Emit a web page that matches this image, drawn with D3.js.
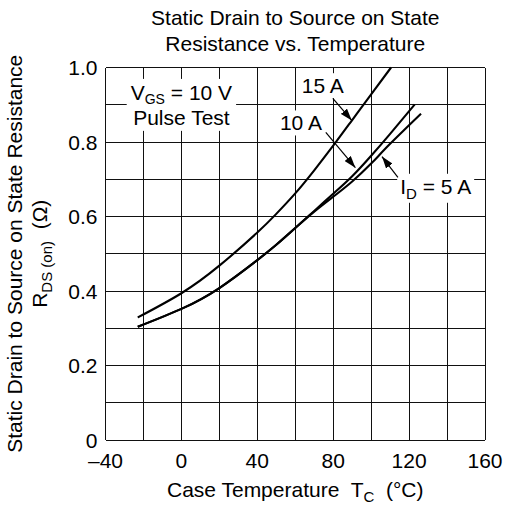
<!DOCTYPE html>
<html>
<head>
<meta charset="utf-8">
<script src="https://cdn.jsdelivr.net/npm/d3@7"></script>
<style>
  body { margin: 0; background: #fff; }
  text { font-family: "Liberation Sans", Arial, sans-serif; fill: #000; white-space: pre; }
</style>
</head>
<body>
<script>
// curves, Tc in °C, Rds(on) in ohm
const temps15 = [-23, 0, 20, 40, 50, 60, 70, 80, 90, 100, 110.5];
const res15   = [0.329, 0.394, 0.468, 0.557, 0.607, 0.662, 0.724, 0.79, 0.859, 0.928, 1.0];
const temps10 = [-23, 0, 20, 40, 50, 60, 70, 80, 90, 100, 110, 123];
const res10   = [0.304, 0.352, 0.408, 0.483, 0.524, 0.569, 0.615, 0.661, 0.708, 0.763, 0.822, 0.901];
const temps5  = [-23, 0, 20, 40, 50, 60, 70, 80, 90, 100, 110, 126.3];
const res5    = [0.304, 0.352, 0.408, 0.483, 0.524, 0.569, 0.613, 0.653, 0.694, 0.742, 0.795, 0.876];

const xGrid = [-40, -20, 0, 20, 40, 60, 80, 100, 120, 140, 160];
const yGrid = [0, 0.1, 0.2, 0.3, 0.4, 0.5, 0.6, 0.7, 0.8, 0.9, 1.0];
const xTicks = [-40, 0, 40, 80, 120, 160];
const yTicks = [0, 0.2, 0.4, 0.6, 0.8, 1.0];

// annotation arrows: [tail T, tail R, tip T, tip R]
const arrows = [
  [79.8, 0.917, 89.8, 0.858],
  [76.1, 0.826, 91.7, 0.731],
  [114.1, 0.705, 105.7, 0.761]
];

const width = 505, height = 508;
const margin = {top: 67.5, right: 20, bottom: 68, left: 105.5};

const svg = d3.select("body").append("svg")
    .attr("width", width)
    .attr("height", height);

const x = d3.scaleLinear().domain([-40, 160]).range([margin.left, width - margin.right]);
const y = d3.scaleLinear().domain([0, 1]).range([height - margin.bottom, margin.top]);

// grid
const grid = svg.append("g").attr("stroke", "#111").attr("stroke-width", 1).attr("shape-rendering", "crispEdges");
grid.selectAll(".v").data(xGrid).enter().append("line")
    .attr("x1", d => x(d)).attr("x2", d => x(d))
    .attr("y1", y(0)).attr("y2", y(1));
grid.selectAll(".h").data(yGrid).enter().append("line")
    .attr("x1", x(-40)).attr("x2", x(160))
    .attr("y1", d => y(d)).attr("y2", d => y(d));

// tick labels
svg.append("g").selectAll("text").data(xTicks).enter().append("text")
    .attr("x", d => x(d)).attr("y", 468)
    .attr("text-anchor", "middle")
    .attr("font-size", 21)
    .text(d => d < 0 ? "\u2013" + Math.abs(d) : d);
svg.append("g").selectAll("text").data(yTicks).enter().append("text")
    .attr("x", margin.left - 8).attr("y", d => y(d))
    .attr("dy", "0.36em")
    .attr("text-anchor", "end")
    .attr("font-size", 21)
    .text(d => d === 0 ? "0" : d.toFixed(1));

// curves
const line = d3.line().x(d => x(d[0])).y(d => y(d[1])).curve(d3.curveNatural);
const series = [
  d3.zip(temps15, res15),
  d3.zip(temps10, res10),
  d3.zip(temps5, res5)
];
svg.append("g").selectAll("path").data(series).enter().append("path")
    .attr("d", line)
    .attr("fill", "none")
    .attr("stroke", "#000")
    .attr("stroke-width", 2.1);

// labels with white backing boxes
function label(g, pad) {
  const b = g.node().getBBox();
  g.insert("rect", ":first-child")
    .attr("x", b.x - pad).attr("y", b.y - pad + 2)
    .attr("width", b.width + 2 * pad).attr("height", b.height + 2 * pad - 4)
    .attr("fill", "#fff");
}

let g = svg.append("g").attr("font-size", 21);
let t = g.append("text").attr("x", x(0)).attr("y", y(0.913)).attr("text-anchor", "middle");
t.append("tspan").text("V");
t.append("tspan").attr("font-size", 14).attr("dy", 4).text("GS");
t.append("tspan").attr("dy", -4).text(" = 10 V");
g.append("text").attr("x", x(0)).attr("y", y(0.846)).attr("text-anchor", "middle").text("Pulse Test");
label(g, 4);

g = svg.append("g").attr("font-size", 21);
g.append("text").attr("x", x(74.5)).attr("y", y(0.931)).attr("text-anchor", "middle").text("15 A");
label(g, 3);

g = svg.append("g").attr("font-size", 21);
g.append("text").attr("x", x(63)).attr("y", y(0.831)).attr("text-anchor", "middle").text("10 A");
label(g, 3);

g = svg.append("g").attr("font-size", 21);
t = g.append("text").attr("x", x(115.3)).attr("y", y(0.661));
t.append("tspan").text("I");
t.append("tspan").attr("font-size", 15).attr("dy", 5).text("D");
t.append("tspan").attr("dy", -5).text(" = 5 A");
label(g, 3);

// arrows
svg.append("defs").append("marker")
    .attr("id", "head")
    .attr("viewBox", "0 0 12 8")
    .attr("refX", 12).attr("refY", 4)
    .attr("markerWidth", 12).attr("markerHeight", 8)
    .attr("markerUnits", "userSpaceOnUse")
    .attr("orient", "auto")
  .append("path")
    .attr("d", "M0,0L12,4L0,8Z")
    .attr("fill", "#000");
svg.append("g").selectAll("line").data(arrows).enter().append("line")
    .attr("x1", d => x(d[0])).attr("y1", d => y(d[1]))
    .attr("x2", d => x(d[2])).attr("y2", d => y(d[3]))
    .attr("stroke", "#000").attr("stroke-width", 1.2)
    .attr("marker-end", "url(#head)");

// titles
const cx = x(60);
svg.append("text").attr("x", cx).attr("y", 25).attr("text-anchor", "middle").attr("font-size", 21)
    .text("Static Drain to Source on State");
svg.append("text").attr("x", cx).attr("y", 51).attr("text-anchor", "middle").attr("font-size", 21)
    .text("Resistance vs. Temperature");

t = svg.append("text").attr("x", cx).attr("y", 497).attr("text-anchor", "middle").attr("font-size", 21);
t.append("tspan").text("Case Temperature  T");
t.append("tspan").attr("font-size", 15).attr("dy", 5).text("C");
t.append("tspan").attr("dy", -5).text("  (\u00B0C)");

const cy = y(0.5);
svg.append("text").attr("transform", `translate(22,${cy}) rotate(-90)`)
    .attr("text-anchor", "middle").attr("font-size", 21)
    .text("Static Drain to Source on State Resistance");
t = svg.append("text").attr("transform", `translate(47,${cy}) rotate(-90)`)
    .attr("text-anchor", "middle").attr("font-size", 21);
t.append("tspan").text("R");
t.append("tspan").attr("font-size", 15).attr("dy", 5).text("DS (on)");
t.append("tspan").attr("dy", -5).text("  (\u03A9)");
</script>
</body>
</html>
